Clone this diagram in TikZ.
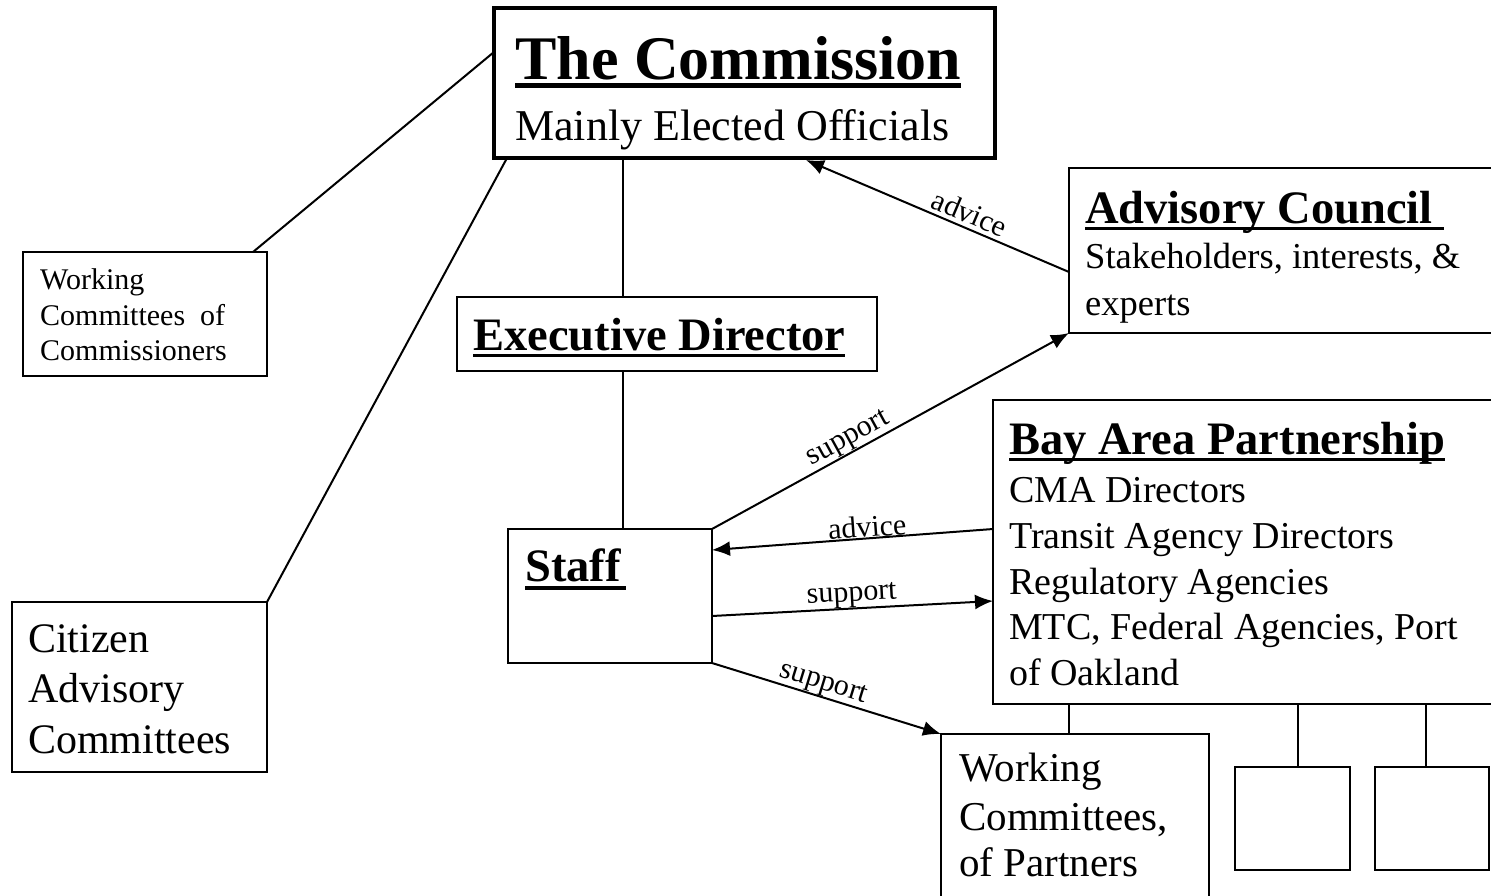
\documentclass[tikz,border=0pt]{standalone}
\usepackage{fontspec}
\setmainfont{Liberation Serif}
\usetikzlibrary{arrows.meta}
\newcommand\myUL[3]{\setbox0=\hbox{#3}\leavevmode\rlap{\copy0}\rule[-#1]{\wd0}{#2}}
\newcommand\fTitle{\fontsize{62}{70}\selectfont\bfseries}
\newcommand\fHead{\fontsize{46.5}{52}\selectfont\bfseries}
\newcommand\fBody{\fontsize{38}{46}\selectfont}
\newcommand\fAC{\fontsize{36.5}{46}\selectfont}
\newcommand\fSub{\fontsize{44}{50}\selectfont}
\newcommand\fSmall{\fontsize{30}{36}\selectfont}
\newcommand\fCit{\fontsize{42}{50}\selectfont}
\newcommand\fWcp{\fontsize{41}{47}\selectfont}
\newcommand\fLbl{\fontsize{30}{32}\selectfont}
\tikzset{
  box/.style={draw, line width=1.6pt, rectangle, anchor=north west, inner sep=0pt, outer sep=0pt},
  conn/.style={line width=2pt},
  arrE/.style={line width=2pt, -{Latex[length=18pt,width=15pt]}},
  arrS/.style={line width=2pt, {Latex[length=18pt,width=15pt]}-},
  txt/.style={anchor=base west, inner sep=0pt},
  lbl/.style={font=\fLbl, inner sep=0pt, sloped}
}
\begin{document}
\begin{tikzpicture}[x=1pt,y=-1pt]
\useasboundingbox (0,0) rectangle (1491,895);
\fill[white] (0,0) rectangle (1491,895);
% boxes
\node[box, line width=4pt, minimum width=501pt, minimum height=150pt] (comm) at (494,8) {};
\node[box, minimum width=244pt, minimum height=124pt] (wcc) at (23,252) {};
\node[box, minimum width=255pt, minimum height=170pt] (cac) at (12,602) {};
\node[box, minimum width=420pt, minimum height=74pt] (exec) at (457,297) {};
\node[box, minimum width=204pt, minimum height=134pt] (staff) at (508,529) {};
\node[box, minimum width=431pt, minimum height=165pt] (ac) at (1069,168) {};
\node[box, minimum width=507pt, minimum height=304pt] (bay) at (993,400) {};
\node[box, minimum width=268pt, minimum height=170pt] (wcp) at (941,734) {};
\node[box, minimum width=115pt, minimum height=103pt] (sb1) at (1235,767) {};
\node[box, minimum width=114pt, minimum height=103pt] (sb2) at (1375,767) {};
% texts
\node[txt, font=\fTitle] (t1) at (515,79) {\myUL{9pt}{5pt}{The Commission}};
\node[txt, font=\fSub] (t2) at (515,140) {Mainly Elected Officials};
\node[txt, font=\fHead] (t3) at (1085,223) {\myUL{7pt}{3.5pt}{Advisory Council\ }};
\node[txt, font=\fAC] (t4) at (1085,268) {Stakeholders, interests, \&};
\node[txt, font=\fAC] (t5) at (1085,315) {experts};
\node[txt, font=\fHead] (t6) at (473,350) {\myUL{7pt}{3.5pt}{Executive Director}};
\node[txt, font=\fHead] (t7) at (525,581) {\myUL{9pt}{4pt}{Staff\kern5pt}};
\node[txt, font=\fHead] (t8) at (1009,454) {\myUL{7pt}{3.5pt}{Bay Area Partnership}};
\node[txt, font=\fBody] (t9) at (1009,502) {CMA Directors};
\node[txt, font=\fBody] (t10) at (1009,548) {Transit Agency Directors};
\node[txt, font=\fBody] (t11) at (1009,594) {Regulatory Agencies};
\node[txt, font=\fBody] (t12) at (1009,639) {MTC, Federal Agencies, Port};
\node[txt, font=\fBody] (t13) at (1009,685) {of Oakland};
\node[txt, font=\fSmall] (t14) at (40,289) {Working};
\node[txt, font=\fSmall] (t15) at (40,325) {\makebox[185pt][s]{Committees of}};
\node[txt, font=\fSmall] (t16) at (40,360) {Commissioners};
\node[txt, font=\fCit] (t17) at (28,652) {Citizen};
\node[txt, font=\fCit] (t18) at (28,702) {Advisory};
\node[txt, font=\fCit] (t19) at (28,753) {Committees};
\node[txt, font=\fWcp] (t20) at (959,781) {Working};
\node[txt, font=\fWcp] (t21) at (959,830) {Committees,};
\node[txt, font=\fWcp] (t22) at (959,876) {of Partners};
% plain connectors
\coordinate (ev) at ([xshift=166pt]exec.north west);
\coordinate (sv) at ([xshift=13pt]staff.north);
\coordinate (w1) at ([xshift=128pt]wcp.north west);
\coordinate (b1) at ([xshift=5.5pt]sb1.north);
\coordinate (b2) at ([xshift=-6pt]sb2.north);
\draw[conn] ([yshift=-44pt]comm.north west) -- ([xshift=-14pt]wcc.north east);
\draw[conn] ([xshift=13pt]comm.south west) -- (cac.north east);
\draw[conn] (ev) -- (ev |- comm.south);
\draw[conn] (sv) -- (sv |- exec.south);
\draw[conn] (w1) -- (w1 |- bay.south);
\draw[conn] (b1) -- (b1 |- bay.south);
\draw[conn] (b2) -- (b2 |- bay.south);
% arrows
\draw[arrS] ([xshift=61.5pt,yshift=-2pt]comm.south) -- node[lbl, above=4pt, pos=0.6] (l1) {advice} ([yshift=-104pt]ac.north west);
\draw[arrE] (staff.north east) -- node[lbl, above=0pt, pos=0.4] (l2) {support} (ac.south west);
\draw[arrS] ([yshift=-21pt]staff.north east) -- node[lbl, above=0pt, pos=0.555] (l3) {advice} ([yshift=-129pt]bay.north west);
\draw[arrE] ([yshift=-87pt]staff.north east) -- node[lbl, above=0pt, pos=0.5] (l4) {support} ([yshift=-201pt]bay.north west);
\draw[arrE] (staff.south east) -- node[lbl, above=0pt, pos=0.47] (l5) {support} (wcp.north west);
\end{tikzpicture}
\end{document}
